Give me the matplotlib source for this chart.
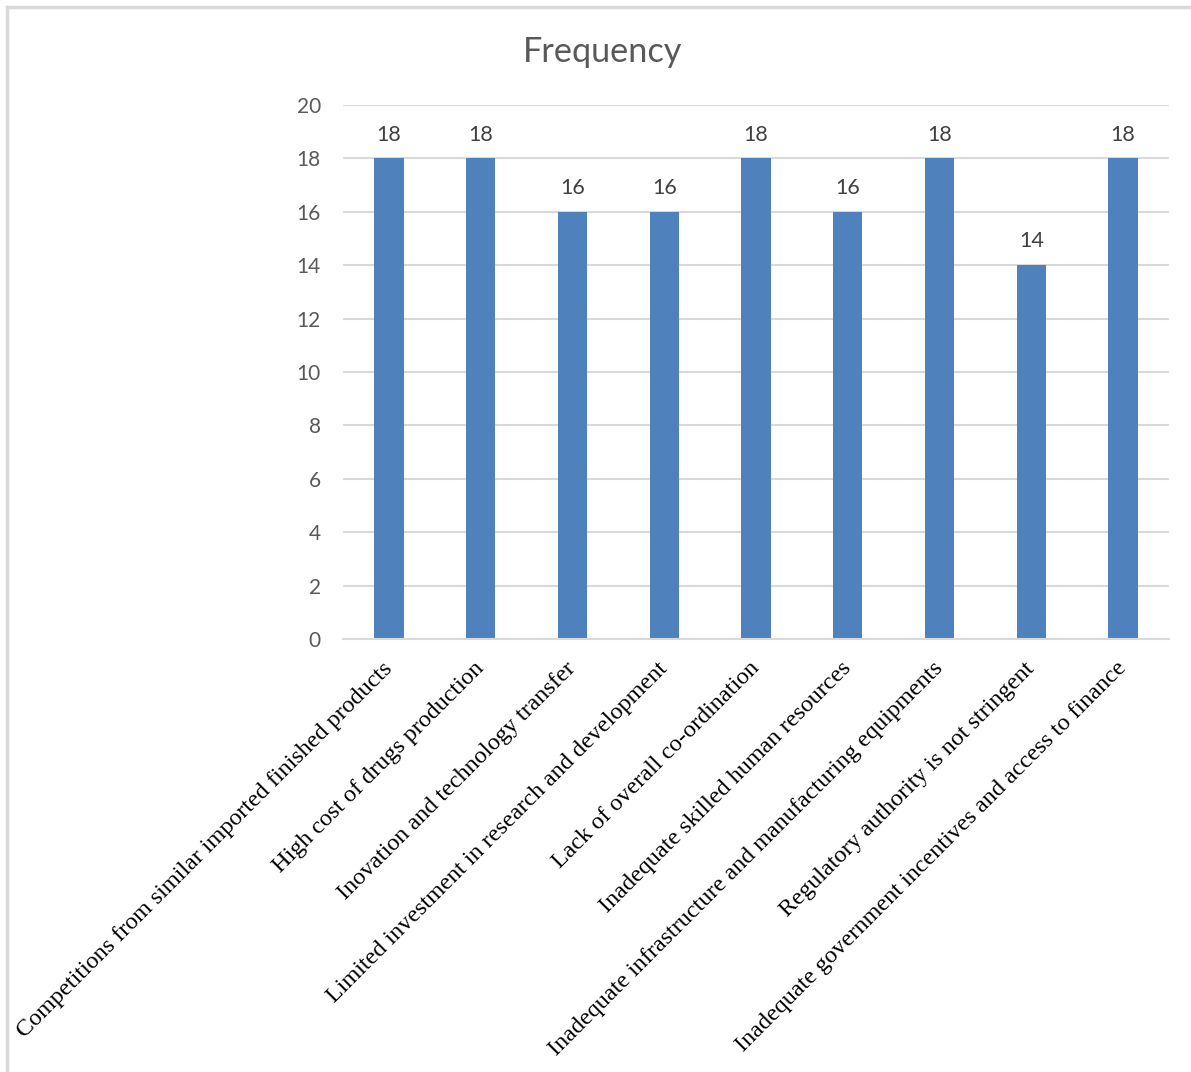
import matplotlib
matplotlib.use("Agg")
import matplotlib.pyplot as plt
from matplotlib.lines import Line2D

categories = [
    "Competitions from similar imported finished products",
    "High cost of drugs production",
    "Inovation and technology transfer",
    "Limited investment in research and development",
    "Lack of overall co-ordination",
    "Inadequate skilled human resources",
    "Inadequate infrastructure and manufacturing equipments",
    "Regulatory authority is not stringent",
    "Inadequate government incentives and access to finance",
]
frequency = [18, 18, 16, 16, 18, 16, 18, 14, 18]
y_ticks = [0, 2, 4, 6, 8, 10, 12, 14, 16, 18, 20]
title = "Frequency"

W, H = 1191, 1072
fig = plt.figure(figsize=(W / 100, H / 100), dpi=100)
fig.patch.set_facecolor("white")

# outer chart-area frame (top and left edges)
fig.add_artist(Line2D([7 / W, 1], [1 - 7 / H, 1 - 7 / H], transform=fig.transFigure,
                      color="#D9D9D9", lw=2.5))
fig.add_artist(Line2D([7 / W, 7 / W], [0, 1 - 7 / H], transform=fig.transFigure,
                      color="#D9D9D9", lw=2.5))

left, right, top, bottom = 343, 1169, 105, 639
ax = fig.add_axes([left / W, 1 - bottom / H, (right - left) / W, (bottom - top) / H])

x = list(range(len(categories)))
bars = ax.bar(x, frequency, width=0.32, color="#4F81BD", zorder=3)

ax.set_xlim(-0.5, len(categories) - 0.5)
ax.set_ylim(0, 20)
ax.set_yticks(y_ticks)
ax.yaxis.grid(True, color="#D9D9D9", lw=1.5, zorder=0)
for s in ["top", "right", "left"]:
    ax.spines[s].set_visible(False)
ax.spines["bottom"].set_color("#D9D9D9")
ax.spines["bottom"].set_linewidth(1.5)
ax.spines["bottom"].set_zorder(4)

ax.tick_params(axis="y", length=0, pad=16, labelsize=15, labelcolor="#595959")
ax.tick_params(axis="x", length=0, pad=19)
for lab in ax.get_yticklabels():
    lab.set_fontfamily("Lato")

ax.set_xticks(x)
ax.set_xticklabels(categories, rotation=45, ha="right", va="center",
                   rotation_mode="anchor", fontfamily="Liberation Serif",
                   fontsize=17.4, color="black")

for rect, v in zip(bars, frequency):
    ax.annotate(str(v), (rect.get_x() + rect.get_width() / 2, v),
                xytext=(0, 10), textcoords="offset points", ha="center", va="bottom",
                fontsize=15.5, color="#404040", fontfamily="Lato")

fig.text(603 / W, 1 - 52 / H, title, ha="center", va="center", fontsize=24.7,
         color="#595959", fontfamily="Lato")

fig.savefig("out.png", dpi=100)
